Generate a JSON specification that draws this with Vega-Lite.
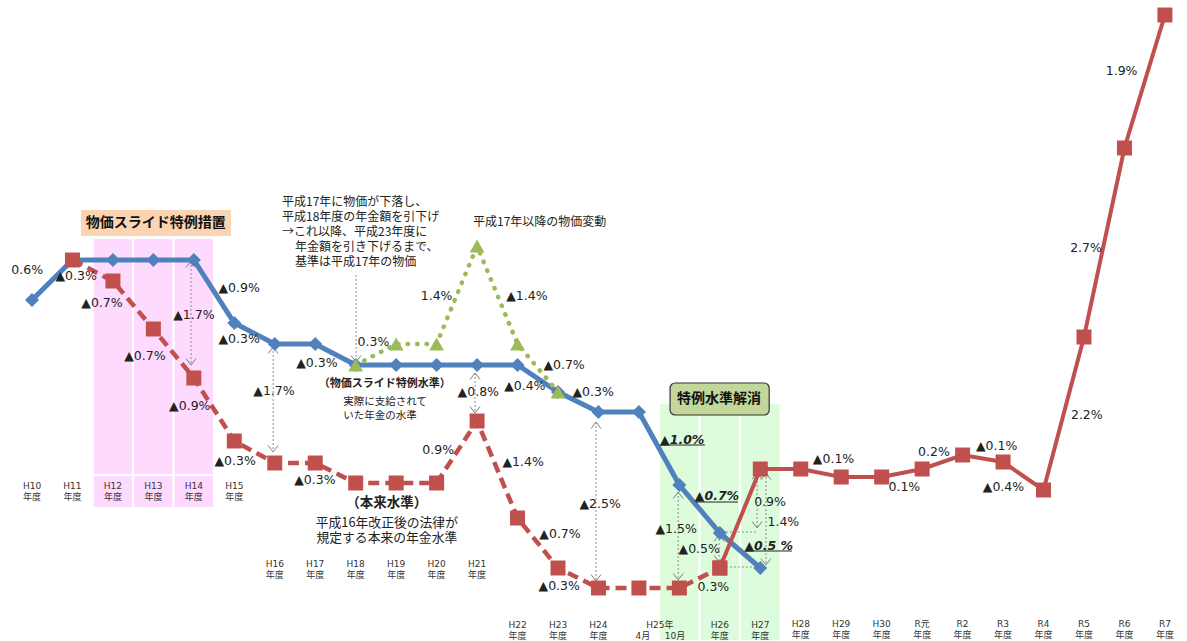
{
  "$schema": "https://vega.github.io/schema/vega-lite/v6.json",
  "width": 1187,
  "height": 641,
  "padding": 0,
  "autosize": {"type": "none"},
  "background": "white",
  "config": {"view": {"stroke": null}},
  "datasets": {
    "levels": [
      {"year": "H10", "pos": 0, "series": "特例水準", "seg": "実線", "level": 34.1},
      {"year": "H11", "pos": 1, "series": "特例水準", "seg": "実線", "level": 38.1},
      {"year": "H12", "pos": 2, "series": "特例水準", "seg": "実線", "level": 38.1},
      {"year": "H13", "pos": 3, "series": "特例水準", "seg": "実線", "level": 38.1},
      {"year": "H14", "pos": 4, "series": "特例水準", "seg": "実線", "level": 38.1},
      {"year": "H15", "pos": 5, "series": "特例水準", "seg": "実線", "level": 31.8},
      {"year": "H16", "pos": 6, "series": "特例水準", "seg": "実線", "level": 29.7},
      {"year": "H17", "pos": 7, "series": "特例水準", "seg": "実線", "level": 29.7},
      {"year": "H18", "pos": 8, "series": "特例水準", "seg": "実線", "level": 27.6},
      {"year": "H19", "pos": 9, "series": "特例水準", "seg": "実線", "level": 27.6},
      {"year": "H20", "pos": 10, "series": "特例水準", "seg": "実線", "level": 27.6},
      {"year": "H21", "pos": 11, "series": "特例水準", "seg": "実線", "level": 27.6},
      {"year": "H22", "pos": 12, "series": "特例水準", "seg": "実線", "level": 27.6},
      {"year": "H23", "pos": 13, "series": "特例水準", "seg": "実線", "level": 24.9},
      {"year": "H24", "pos": 14, "series": "特例水準", "seg": "実線", "level": 22.9},
      {"year": "H25.4", "pos": 15, "series": "特例水準", "seg": "実線", "level": 22.9},
      {"year": "H25.10", "pos": 16, "series": "特例水準", "seg": "実線", "level": 15.6},
      {"year": "H26", "pos": 17, "series": "特例水準", "seg": "実線", "level": 10.8},
      {"year": "H27", "pos": 18, "series": "特例水準", "seg": "実線", "level": 7.3},

      {"year": "H11", "pos": 1, "series": "本来水準", "seg": "破線", "level": 38.1},
      {"year": "H12", "pos": 2, "series": "本来水準", "seg": "破線", "level": 36.0},
      {"year": "H13", "pos": 3, "series": "本来水準", "seg": "破線", "level": 31.2},
      {"year": "H14", "pos": 4, "series": "本来水準", "seg": "破線", "level": 26.3},
      {"year": "H15", "pos": 5, "series": "本来水準", "seg": "破線", "level": 20.0},
      {"year": "H16", "pos": 6, "series": "本来水準", "seg": "破線", "level": 17.8},
      {"year": "H17", "pos": 7, "series": "本来水準", "seg": "破線", "level": 17.8},
      {"year": "H18", "pos": 8, "series": "本来水準", "seg": "破線", "level": 15.8},
      {"year": "H19", "pos": 9, "series": "本来水準", "seg": "破線", "level": 15.8},
      {"year": "H20", "pos": 10, "series": "本来水準", "seg": "破線", "level": 15.8},
      {"year": "H21", "pos": 11, "series": "本来水準", "seg": "破線", "level": 22.0},
      {"year": "H22", "pos": 12, "series": "本来水準", "seg": "破線", "level": 12.3},
      {"year": "H23", "pos": 13, "series": "本来水準", "seg": "破線", "level": 7.3},
      {"year": "H24", "pos": 14, "series": "本来水準", "seg": "破線", "level": 5.3},
      {"year": "H25.4", "pos": 15, "series": "本来水準", "seg": "破線", "level": 5.3},
      {"year": "H25.10", "pos": 16, "series": "本来水準", "seg": "破線", "level": 5.3},
      {"year": "H26", "pos": 17, "series": "本来水準", "seg": "破線", "level": 7.3},

      {"year": "H26", "pos": 17, "series": "本来水準", "seg": "実線", "level": 7.3},
      {"year": "H27", "pos": 18, "series": "本来水準", "seg": "実線", "level": 17.2},
      {"year": "H28", "pos": 19, "series": "本来水準", "seg": "実線", "level": 17.2},
      {"year": "H29", "pos": 20, "series": "本来水準", "seg": "実線", "level": 16.4},
      {"year": "H30", "pos": 21, "series": "本来水準", "seg": "実線", "level": 16.4},
      {"year": "R元", "pos": 22, "series": "本来水準", "seg": "実線", "level": 17.2},
      {"year": "R2", "pos": 23, "series": "本来水準", "seg": "実線", "level": 18.6},
      {"year": "R3", "pos": 24, "series": "本来水準", "seg": "実線", "level": 17.9},
      {"year": "R4", "pos": 25, "series": "本来水準", "seg": "実線", "level": 15.1},
      {"year": "R5", "pos": 26, "series": "本来水準", "seg": "実線", "level": 30.4},
      {"year": "R6", "pos": 27, "series": "本来水準", "seg": "実線", "level": 49.3},
      {"year": "R7", "pos": 28, "series": "本来水準", "seg": "実線", "level": 62.6},

      {"year": "H18", "pos": 8, "series": "物価変動", "seg": "点線", "level": 27.6},
      {"year": "H19", "pos": 9, "series": "物価変動", "seg": "点線", "level": 29.7},
      {"year": "H20", "pos": 10, "series": "物価変動", "seg": "点線", "level": 29.7},
      {"year": "H21", "pos": 11, "series": "物価変動", "seg": "点線", "level": 39.5},
      {"year": "H22", "pos": 12, "series": "物価変動", "seg": "点線", "level": 29.7},
      {"year": "H23", "pos": 13, "series": "物価変動", "seg": "点線", "level": 24.9}
    ],
    "bands": [
      {"kind": "pink", "pos": 1.5, "pos2": 2.5, "level": 40.3, "level2": 16.6},
      {"kind": "pink", "pos": 2.5, "pos2": 3.5, "level": 40.3, "level2": 16.6},
      {"kind": "pink", "pos": 3.5, "pos2": 4.5, "level": 40.3, "level2": 16.6},
      {"kind": "pink", "pos": 1.5, "pos2": 2.5, "level": 16.6, "level2": 13.3},
      {"kind": "pink", "pos": 2.5, "pos2": 3.5, "level": 16.6, "level2": 13.3},
      {"kind": "pink", "pos": 3.5, "pos2": 4.5, "level": 16.6, "level2": 13.3},
      {"kind": "green", "pos": 15.5, "pos2": 16.5, "level": 23.8, "level2": 0},
      {"kind": "green", "pos": 16.5, "pos2": 17.5, "level": 23.8, "level2": 0},
      {"kind": "green", "pos": 17.5, "pos2": 18.5, "level": 23.8, "level2": 0},
      {"kind": "peach", "pos": 1.21, "pos2": 4.92, "level": 43.1, "level2": 40.5},
      {"kind": "olive", "pos": 15.77, "pos2": 18.22, "level": 25.8, "level2": 22.6}
    ],
    "arrows": [
      {"pos": 3.93, "level": 38.0, "level2": 27.6},
      {"pos": 5.96, "level": 29.4, "level2": 18.9},
      {"pos": 8.01, "level": 36.6, "level2": 27.9},
      {"pos": 10.95, "level": 26.8, "level2": 22.8},
      {"pos": 13.94, "level": 21.9, "level2": 6.0},
      {"pos": 15.97, "level": 14.9, "level2": 6.1},
      {"pos": 16.98, "level": 10.6, "level2": 7.9},
      {"pos": 17.92, "level": 16.8, "level2": 11.3},
      {"pos": 18.14, "level": 16.8, "level2": 7.6}
    ],
    "hlines": [
      {"pos": 17.05, "pos2": 17.94, "level": 10.9},
      {"pos": 17.05, "pos2": 18.04, "level": 7.4}
    ],
    "heads": [
      {"pos": 3.93, "level": 38.0, "dir": "上"},
      {"pos": 5.96, "level": 29.4, "dir": "上"},
      {"pos": 10.95, "level": 26.8, "dir": "上"},
      {"pos": 13.94, "level": 21.9, "dir": "上"},
      {"pos": 15.97, "level": 14.9, "dir": "上"},
      {"pos": 16.98, "level": 10.6, "dir": "上"},
      {"pos": 17.92, "level": 16.8, "dir": "上"},
      {"pos": 18.14, "level": 16.8, "dir": "上"},
      {"pos": 3.93, "level": 27.6, "dir": "下"},
      {"pos": 5.96, "level": 18.9, "dir": "下"},
      {"pos": 8.01, "level": 27.9, "dir": "下"},
      {"pos": 10.95, "level": 22.8, "dir": "下"},
      {"pos": 13.94, "level": 6.0, "dir": "下"},
      {"pos": 15.97, "level": 6.1, "dir": "下"},
      {"pos": 16.98, "level": 7.9, "dir": "下"},
      {"pos": 17.92, "level": 11.3, "dir": "下"},
      {"pos": 18.14, "level": 7.6, "dir": "下"}
    ],
    "underlines": [
      {"pos": 15.52, "pos2": 16.63, "level": 19.6},
      {"pos": 16.41, "pos2": 17.45, "level": 13.9},
      {"pos": 17.62, "pos2": 18.78, "level": 9.0}
    ],
    "notes": [
      {"kind": "pct", "pos": -0.12, "level": 37.1, "text": "0.6%"},
      {"kind": "pct", "pos": 1.09, "level": 36.5, "text": "▲0.3%"},
      {"kind": "pct", "pos": 1.73, "level": 33.8, "text": "▲0.7%"},
      {"kind": "pct", "pos": 2.79, "level": 28.5, "text": "▲0.7%"},
      {"kind": "pct", "pos": 4.0, "level": 32.6, "text": "▲1.7%"},
      {"kind": "pct", "pos": 3.9, "level": 23.5, "text": "▲0.9%"},
      {"kind": "pct", "pos": 5.12, "level": 35.3, "text": "▲0.9%"},
      {"kind": "pct", "pos": 5.12, "level": 30.2, "text": "▲0.3%"},
      {"kind": "pct", "pos": 5.02, "level": 18.0, "text": "▲0.3%"},
      {"kind": "pct", "pos": 5.98, "level": 25.0, "text": "▲1.7%"},
      {"kind": "pct", "pos": 7.04, "level": 27.8, "text": "▲0.3%"},
      {"kind": "pct", "pos": 8.44, "level": 29.9, "text": "0.3%"},
      {"kind": "pct", "pos": 10.0, "level": 34.5, "text": "1.4%"},
      {"kind": "pct", "pos": 12.23, "level": 34.5, "text": "▲1.4%"},
      {"kind": "pct", "pos": 13.15, "level": 27.6, "text": "▲0.7%"},
      {"kind": "pct", "pos": 12.18, "level": 25.5, "text": "▲0.4%"},
      {"kind": "pct", "pos": 13.87, "level": 24.9, "text": "▲0.3%"},
      {"kind": "pct", "pos": 11.03, "level": 24.9, "text": "▲0.8%"},
      {"kind": "pct", "pos": 10.04, "level": 19.1, "text": "0.9%"},
      {"kind": "pct", "pos": 6.99, "level": 16.1, "text": "▲0.3%"},
      {"kind": "pct", "pos": 12.14, "level": 17.9, "text": "▲1.4%"},
      {"kind": "pct", "pos": 13.05, "level": 10.7, "text": "▲0.7%"},
      {"kind": "pct", "pos": 13.03, "level": 5.5, "text": "▲0.3%"},
      {"kind": "pct", "pos": 14.04, "level": 13.7, "text": "▲2.5%"},
      {"kind": "pct", "pos": 15.92, "level": 11.2, "text": "▲1.5%"},
      {"kind": "pct", "pos": 16.49, "level": 9.2, "text": "▲0.5%"},
      {"kind": "pct", "pos": 16.84, "level": 5.4, "text": "0.3%"},
      {"kind": "pct", "pos": 18.24, "level": 13.9, "text": "0.9%"},
      {"kind": "pct", "pos": 18.57, "level": 11.9, "text": "1.4%"},
      {"kind": "pct", "pos": 19.81, "level": 18.2, "text": "▲0.1%"},
      {"kind": "pct", "pos": 21.56, "level": 15.4, "text": "0.1%"},
      {"kind": "pct", "pos": 22.29, "level": 18.9, "text": "0.2%"},
      {"kind": "pct", "pos": 23.84, "level": 19.5, "text": "▲0.1%"},
      {"kind": "pct", "pos": 24.01, "level": 15.4, "text": "▲0.4%"},
      {"kind": "pct", "pos": 26.93, "level": 57.0, "text": "1.9%"},
      {"kind": "pct", "pos": 26.05, "level": 39.3, "text": "2.7%"},
      {"kind": "pct", "pos": 26.07, "level": 22.6, "text": "2.2%"},
      {"kind": "pct_em", "pos": 16.07, "level": 20.1, "text": "▲1.0%"},
      {"kind": "pct_em", "pos": 16.93, "level": 14.5, "text": "▲0.7%"},
      {"kind": "pct_em", "pos": 18.21, "level": 9.5, "text": "▲0.5 %"},
      {"kind": "note", "pos": 6.18, "level": 43.9, "text": "平成17年に物価が下落し、"},
      {"kind": "note", "pos": 6.18, "level": 42.4, "text": "平成18年度の年金額を引下げ"},
      {"kind": "note", "pos": 6.18, "level": 40.9, "text": "→これ以降、平成23年度に"},
      {"kind": "note", "pos": 6.5, "level": 39.4, "text": "年金額を引き下げるまで、"},
      {"kind": "note", "pos": 6.5, "level": 37.9, "text": "基準は平成17年の物価"},
      {"kind": "note", "pos": 10.9, "level": 41.9, "text": "平成17年以降の物価変動"},
      {"kind": "note_small", "pos": 7.69, "level": 23.9, "text": "実際に支給されて"},
      {"kind": "note_small", "pos": 7.69, "level": 22.5, "text": "いた年金の水準"},
      {"kind": "caption_b", "pos": 8.72, "level": 25.7, "text": "（物価スライド特例水準）"},
      {"kind": "caption_main_b", "pos": 8.77, "level": 13.8, "text": "（本来水準）"},
      {"kind": "caption_main", "pos": 8.77, "level": 11.8, "text": "平成16年改正後の法律が\n規定する本来の年金水準"},
      {"kind": "box_title", "pos": 3.06, "level": 41.8, "text": "物価スライド特例措置"},
      {"kind": "box_title", "pos": 16.98, "level": 24.2, "text": "特例水準解消"},
      {"kind": "tick", "pos": 0, "level": 15.5, "text": "H10\n年度"},
      {"kind": "tick", "pos": 1, "level": 15.5, "text": "H11\n年度"},
      {"kind": "tick", "pos": 2, "level": 15.5, "text": "H12\n年度"},
      {"kind": "tick", "pos": 3, "level": 15.5, "text": "H13\n年度"},
      {"kind": "tick", "pos": 4, "level": 15.5, "text": "H14\n年度"},
      {"kind": "tick", "pos": 5, "level": 15.5, "text": "H15\n年度"},
      {"kind": "tick", "pos": 6, "level": 7.7, "text": "H16\n年度"},
      {"kind": "tick", "pos": 7, "level": 7.7, "text": "H17\n年度"},
      {"kind": "tick", "pos": 8, "level": 7.7, "text": "H18\n年度"},
      {"kind": "tick", "pos": 9, "level": 7.7, "text": "H19\n年度"},
      {"kind": "tick", "pos": 10, "level": 7.7, "text": "H20\n年度"},
      {"kind": "tick", "pos": 11, "level": 7.7, "text": "H21\n年度"},
      {"kind": "tick", "pos": 12, "level": 1.6, "text": "H22\n年度"},
      {"kind": "tick", "pos": 13, "level": 1.6, "text": "H23\n年度"},
      {"kind": "tick", "pos": 14, "level": 1.6, "text": "H24\n年度"},
      {"kind": "tick", "pos": 15.52, "level": 1.6, "text": "H25年"},
      {"kind": "tick", "pos": 15.1, "level": 0.55, "text": "4月"},
      {"kind": "tick", "pos": 15.89, "level": 0.55, "text": "10月"},
      {"kind": "tick", "pos": 17, "level": 1.6, "text": "H26\n年度"},
      {"kind": "tick", "pos": 18, "level": 1.6, "text": "H27\n年度"},
      {"kind": "tick", "pos": 19, "level": 1.7, "text": "H28\n年度"},
      {"kind": "tick", "pos": 20, "level": 1.7, "text": "H29\n年度"},
      {"kind": "tick", "pos": 21, "level": 1.7, "text": "H30\n年度"},
      {"kind": "tick", "pos": 22, "level": 1.7, "text": "R元\n年度"},
      {"kind": "tick", "pos": 23, "level": 1.7, "text": "R2\n年度"},
      {"kind": "tick", "pos": 24, "level": 1.7, "text": "R3\n年度"},
      {"kind": "tick", "pos": 25, "level": 1.7, "text": "R4\n年度"},
      {"kind": "tick", "pos": 26, "level": 1.7, "text": "R5\n年度"},
      {"kind": "tick", "pos": 27, "level": 1.7, "text": "R6\n年度"},
      {"kind": "tick", "pos": 28, "level": 1.7, "text": "R7\n年度"}
    ]
  },
  "encoding": {
    "x": {"field": "pos", "type": "quantitative", "scale": {"domain": [-0.791, 28.546], "nice": false, "zero": false}, "axis": null},
    "y": {"field": "level", "type": "quantitative", "scale": {"domain": [0, 64.1], "nice": false, "zero": false}, "axis": null}
  },
  "layer": [
    {"data": {"name": "bands"}, "transform": [{"filter": "datum.kind == 'pink'"}],
     "mark": {"type": "rect", "fill": "#FFDAFF", "stroke": "white", "strokeWidth": 2},
     "encoding": {"x2": {"field": "pos2"}, "y2": {"field": "level2"}}},
    {"data": {"name": "bands"}, "transform": [{"filter": "datum.kind == 'green'"}],
     "mark": {"type": "rect", "fill": "#DCFCDC", "stroke": "white", "strokeWidth": 2},
     "encoding": {"x2": {"field": "pos2"}, "y2": {"field": "level2"}}},
    {"data": {"name": "bands"}, "transform": [{"filter": "datum.kind == 'peach'"}],
     "mark": {"type": "rect", "fill": "#FBD4B4"},
     "encoding": {"x2": {"field": "pos2"}, "y2": {"field": "level2"}}},
    {"data": {"name": "bands"}, "transform": [{"filter": "datum.kind == 'olive'"}],
     "mark": {"type": "rect", "fill": "#C4D79B", "stroke": "#333333", "strokeWidth": 1.2, "cornerRadius": 5},
     "encoding": {"x2": {"field": "pos2"}, "y2": {"field": "level2"}}},
    {"data": {"name": "arrows"},
     "mark": {"type": "rule", "color": "#8C8C8C", "strokeWidth": 1, "strokeDash": [2, 2]},
     "encoding": {"y2": {"field": "level2"}}},
    {"data": {"name": "hlines"},
     "mark": {"type": "rule", "color": "#8C8C8C", "strokeWidth": 1, "strokeDash": [2, 2]},
     "encoding": {"x2": {"field": "pos2"}}},
    {"data": {"name": "heads"},
     "mark": {"type": "point", "filled": false, "color": "#7F7F7F", "strokeWidth": 1, "size": 100, "opacity": 1},
     "encoding": {"shape": {"field": "dir", "type": "nominal", "scale": {"domain": ["上", "下"], "range": ["M-1,1.3L0,0L1,1.3", "M-1,-1.3L0,0L1,-1.3"]}, "legend": null}}},
    {"data": {"name": "levels"}, "transform": [{"filter": "datum.series == '特例水準'"}],
     "mark": {"type": "line", "color": "#4F81BD", "strokeWidth": 5},
     "encoding": {}},
    {"data": {"name": "levels"}, "transform": [{"filter": "datum.series == '本来水準' && datum.seg == '破線'"}],
     "mark": {"type": "line", "color": "#C0504D", "strokeWidth": 4.5, "strokeDash": [11, 6]},
     "encoding": {}},
    {"data": {"name": "levels"}, "transform": [{"filter": "datum.series == '本来水準' && datum.seg == '実線'"}],
     "mark": {"type": "line", "color": "#C0504D", "strokeWidth": 4},
     "encoding": {}},
    {"data": {"name": "levels"}, "transform": [{"filter": "datum.series == '物価変動'"}],
     "mark": {"type": "line", "color": "#9BBB59", "strokeWidth": 4.5, "strokeDash": [0.5, 9], "strokeCap": "round"},
     "encoding": {}},
    {"data": {"name": "levels"}, "transform": [{"filter": "datum.series == '特例水準'"}],
     "mark": {"type": "point", "shape": "diamond", "filled": true, "color": "#4F81BD", "size": 196, "opacity": 1}},
    {"data": {"name": "levels"}, "transform": [{"filter": "datum.series == '本来水準'"}],
     "mark": {"type": "point", "shape": "square", "filled": true, "color": "#C0504D", "size": 225, "opacity": 1}},
    {"data": {"name": "levels"}, "transform": [{"filter": "datum.series == '物価変動'"}],
     "mark": {"type": "point", "shape": "triangle-up", "filled": true, "color": "#9BBB59", "size": 220, "opacity": 1}},
    {"data": {"name": "underlines"},
     "mark": {"type": "rule", "color": "#222222", "strokeWidth": 1.2},
     "encoding": {"x2": {"field": "pos2"}}},
    {"data": {"name": "notes"}, "transform": [{"filter": "datum.kind == 'pct'"}],
     "mark": {"type": "text", "font": "DejaVu Sans", "fontSize": 12.5, "color": "#222222", "align": "center", "baseline": "middle"},
     "encoding": {"text": {"field": "text"}}},
    {"data": {"name": "notes"}, "transform": [{"filter": "datum.kind == 'pct_em'"}],
     "mark": {"type": "text", "font": "DejaVu Sans", "fontSize": 12.5, "fontWeight": "bold", "fontStyle": "italic", "color": "#222222", "align": "center", "baseline": "middle"},
     "encoding": {"text": {"field": "text"}}},
    {"data": {"name": "notes"}, "transform": [{"filter": "datum.kind == 'note'"}],
     "mark": {"type": "text", "font": "Noto Sans CJK JP", "fontSize": 12, "color": "#222222", "align": "left", "baseline": "middle"},
     "encoding": {"text": {"field": "text"}}},
    {"data": {"name": "notes"}, "transform": [{"filter": "datum.kind == 'note_small'"}],
     "mark": {"type": "text", "font": "Noto Sans CJK JP", "fontSize": 10.5, "color": "#222222", "align": "left", "baseline": "middle"},
     "encoding": {"text": {"field": "text"}}},
    {"data": {"name": "notes"}, "transform": [{"filter": "datum.kind == 'caption_b'"}],
     "mark": {"type": "text", "font": "Noto Sans CJK JP", "fontSize": 11, "fontWeight": "bold", "color": "#222222", "align": "center", "baseline": "middle"},
     "encoding": {"text": {"field": "text"}}},
    {"data": {"name": "notes"}, "transform": [{"filter": "datum.kind == 'caption_main_b'"}],
     "mark": {"type": "text", "font": "Noto Sans CJK JP", "fontSize": 13.5, "fontWeight": "bold", "color": "#222222", "align": "center", "baseline": "middle"},
     "encoding": {"text": {"field": "text"}}},
    {"data": {"name": "notes"}, "transform": [{"filter": "datum.kind == 'caption_main'"}],
     "mark": {"type": "text", "font": "Noto Sans CJK JP", "fontSize": 12.8, "color": "#222222", "align": "center", "baseline": "middle", "lineBreak": "\n", "lineHeight": 14.5},
     "encoding": {"text": {"field": "text"}}},
    {"data": {"name": "notes"}, "transform": [{"filter": "datum.kind == 'box_title'"}],
     "mark": {"type": "text", "font": "Noto Sans CJK JP", "fontSize": 14, "fontWeight": "bold", "color": "#111111", "align": "center", "baseline": "middle"},
     "encoding": {"text": {"field": "text"}}},
    {"data": {"name": "notes"}, "transform": [{"filter": "datum.kind == 'tick'"}],
     "mark": {"type": "text", "font": "DejaVu Sans, Noto Sans CJK JP", "fontSize": 9, "color": "#333333", "align": "center", "baseline": "middle", "lineBreak": "\n", "lineHeight": 10.5},
     "encoding": {"text": {"field": "text"}}}
  ]
}
